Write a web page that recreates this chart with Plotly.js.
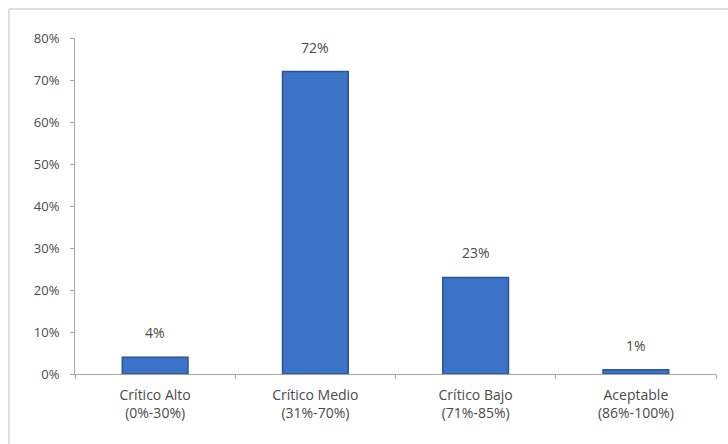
<!DOCTYPE html>
<html>
<head>
<meta charset="utf-8">
<script src="https://cdn.plot.ly/plotly-3.0.1.min.js"></script>
<style>html,body{margin:0;padding:0;background:#fff;}#chart{width:728px;height:444px;}</style>
</head>
<body>
<div id="chart"></div>
<script>
const categories = ["Crítico Alto<br>(0%-30%)", "Crítico Medio<br>(31%-70%)", "Crítico Bajo<br>(71%-85%)", "Aceptable<br>(86%-100%)"];
const values = [4, 72, 23, 1];
const valueLabels = ["4%", "72%", "23%", "1%"];
const yTickVals = [0, 10, 20, 30, 40, 50, 60, 70, 80];
const yTickText = ["0%", "10%", "20%", "30%", "40%", "50%", "60%", "70%", "80%"];

const font = {family: "Open Sans, DejaVu Sans, sans-serif", size: 14, color: "#4a4a4a"};
const yFont = {family: "Open Sans, DejaVu Sans, sans-serif", size: 13, color: "#4a4a4a"};

const trace = {
  type: "bar",
  x: categories,
  y: values,
  marker: {color: "#3d73c7", line: {color: "#2a5596", width: 1.5}},
  width: 0.41,
  hoverinfo: "none"
};

const annotations = categories.map((c, i) => ({
  x: c, y: values[i], xref: "x", yref: "y",
  text: valueLabels[i], showarrow: false,
  yanchor: "bottom", yshift: 13,
  font: font
}));

const layout = {
  width: 728, height: 444,
  margin: {l: 75, r: 12, t: 38, b: 70},
  paper_bgcolor: "#ffffff", plot_bgcolor: "#ffffff",
  showlegend: false,
  font: font,
  xaxis: {
    type: "category",
    showline: true, linecolor: "#a6a6a6", linewidth: 1,
    ticks: "outside", tickson: "boundaries", ticklen: 4, tickcolor: "#a6a6a6",
    ticklabelstandoff: 8,
    showgrid: false, zeroline: false,
    tickfont: font, fixedrange: true
  },
  yaxis: {
    range: [0, 80],
    tickvals: yTickVals, ticktext: yTickText,
    showline: true, linecolor: "#a6a6a6", linewidth: 1,
    ticks: "outside", ticklen: 4, tickcolor: "#a6a6a6",
    ticklabelstandoff: 8,
    showgrid: false, zeroline: false,
    tickfont: yFont, fixedrange: true
  },
  annotations: annotations,
  shapes: [
    {type: "line", xref: "paper", yref: "paper", x0: -0.1031, x1: 1.03, y0: 1.086, y1: 1.086, line: {color: "#d4d4d4", width: 1.5}},
    {type: "line", xref: "paper", yref: "paper", x0: -0.1031, x1: -0.1031, y0: 1.086, y1: -0.25, line: {color: "#d4d4d4", width: 1.5}}
  ]
};

Plotly.newPlot("chart", [trace], layout, {displayModeBar: false, staticPlot: true});
</script>
</body>
</html>
